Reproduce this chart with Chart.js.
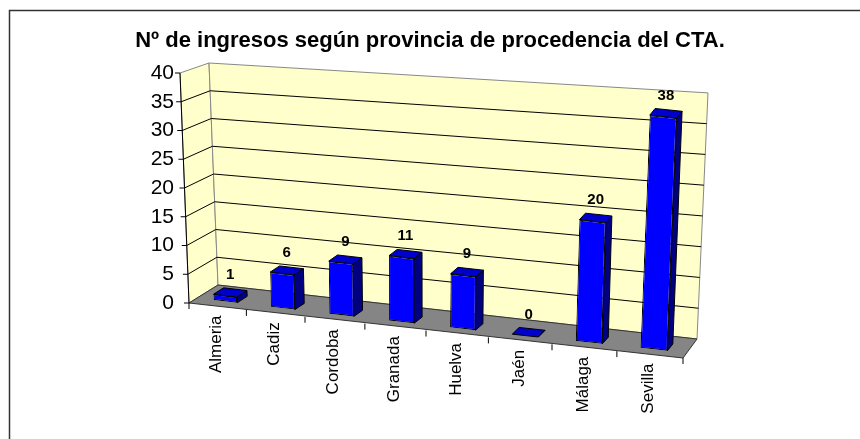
<!DOCTYPE html>
<html>
<head>
<meta charset="utf-8">
<title>Nº de ingresos según provincia de procedencia del CTA.</title>
<script src="https://cdn.jsdelivr.net/npm/chart.js@4.4.1/dist/chart.umd.min.js"></script>
<style>
  html, body { margin: 0; padding: 0; background: #fff; }
  #wrap { width: 860px; height: 439px; }
</style>
</head>
<body>
<div id="wrap"><canvas id="grafico" width="860" height="439"></canvas></div>
<script>
const provincias = ["Almeria", "Cadiz", "Cordoba", "Granada", "Huelva", "Jaén", "Málaga", "Sevilla"];
const ingresos = [1, 6, 9, 11, 9, 0, 20, 38];
const marcasY = [0, 5, 10, 15, 20, 25, 30, 35, 40];
const titulo = "Nº de ingresos según provincia de procedencia del CTA.";

const FUENTE = "'Liberation Sans', Arial, sans-serif";
const Z0 = 0.28, Z1 = 0.64; // profundidad de las barras (0 = frente, 1 = pared)

// perspectiva aproximada del grafico 3D de Excel
function proyectar(area, X, Y, z) {
  const u = (X - area.left) / (area.right - area.left);
  const v = (area.bottom - Y) / (area.bottom - area.top);
  const dx = 29 - 15 * u;
  const dy = -18 - u + 8 * v * (1 - u);
  return {
    x: X - 40 * u * (1 - u) + (-9 + 20 * u) * v + z * dx,
    y: area.bottom + 55 * u - (area.bottom - Y) * (1 + 0.07 * u) + z * dy
  };
}

function poligono(ctx, pts, relleno, borde) {
  ctx.beginPath();
  ctx.moveTo(pts[0].x, pts[0].y);
  for (let i = 1; i < pts.length; i++) ctx.lineTo(pts[i].x, pts[i].y);
  ctx.closePath();
  ctx.fillStyle = relleno;
  ctx.fill();
  if (borde) {
    ctx.strokeStyle = borde;
    ctx.stroke();
  }
}

const plugin3d = {
  id: "plugin3d",
  beforeDraw(chart) {
    const ctx = chart.ctx;
    const a = chart.chartArea;
    const ys = chart.scales.y;
    const xs = chart.scales.x;
    const P = (X, Y, z) => proyectar(a, X, Y, z);
    ctx.save();
    ctx.fillStyle = "#fff";
    ctx.fillRect(0, 0, chart.width, chart.height);

    // marco
    ctx.strokeStyle = "#333";
    ctx.lineWidth = 1.5;
    ctx.beginPath();
    ctx.moveTo(9.5, chart.height + 2);
    ctx.lineTo(9.5, 10.5);
    ctx.lineTo(chart.width + 2, 10.5);
    ctx.stroke();

    ctx.lineWidth = 1;
    // pared izquierda y pared del fondo
    poligono(ctx, [P(a.left, a.bottom, 0), P(a.left, a.top, 0), P(a.left, a.top, 1), P(a.left, a.bottom, 1)], "#FFFFCC", "#888");
    poligono(ctx, [P(a.left, a.top, 1), P(a.right, a.top, 1), P(a.right, a.bottom, 1), P(a.left, a.bottom, 1)], "#FFFFCC", "#888");

    // lineas de division
    ctx.strokeStyle = "#000";
    ys.ticks.forEach(t => {
      if (t.value <= marcasY[0] || t.value >= marcasY[marcasY.length - 1]) return;
      const Y = ys.getPixelForValue(t.value);
      const p0 = P(a.left, Y, 0), p1 = P(a.left, Y, 1), p2 = P(a.right, Y, 1);
      ctx.beginPath();
      ctx.moveTo(p0.x, p0.y);
      ctx.lineTo(p1.x, p1.y);
      ctx.lineTo(p2.x, p2.y);
      ctx.stroke();
    });

    // suelo
    poligono(ctx, [P(a.left, a.bottom, 0), P(a.right, a.bottom, 0), P(a.right, a.bottom, 1), P(a.left, a.bottom, 1)], "#858585", "#333");

    // eje vertical y sus marcas
    ctx.strokeStyle = "#000";
    const e0 = P(a.left, a.bottom, 0), e1 = P(a.left, a.top, 0);
    ctx.beginPath();
    ctx.moveTo(e0.x, e0.y);
    ctx.lineTo(e1.x, e1.y);
    ctx.stroke();
    ys.ticks.forEach(t => {
      const p = P(a.left, ys.getPixelForValue(t.value), 0);
      ctx.beginPath();
      ctx.moveTo(p.x - 5, p.y);
      ctx.lineTo(p.x, p.y);
      ctx.stroke();
    });

    // marcas del eje de categorias
    const paso = (a.right - a.left) / provincias.length;
    for (let i = 0; i <= provincias.length; i++) {
      const p = P(a.left + i * paso, a.bottom, 0);
      ctx.beginPath();
      ctx.moveTo(p.x, p.y);
      ctx.lineTo(p.x, p.y + 6);
      ctx.stroke();
    }

    // etiquetas de categorias
    ctx.fillStyle = "#000";
    ctx.font = "17px " + FUENTE;
    ctx.textAlign = "right";
    ctx.textBaseline = "middle";
    provincias.forEach((nombre, i) => {
      const p = P(xs.getPixelForValue(i), a.bottom, 0);
      ctx.save();
      ctx.translate(p.x - 1, p.y + 9);
      ctx.rotate(-Math.PI / 2);
      ctx.fillText(nombre, 0, 0);
      ctx.restore();
    });
    ctx.restore();
  },
  beforeDatasetDraw(chart, args) {
    const ctx = chart.ctx;
    const a = chart.chartArea;
    const P = (X, Y, z) => proyectar(a, X, Y, z);
    args.meta.data.forEach(bar => {
      const { x, y, base, width } = bar.getProps(["x", "y", "base", "width"], true);
      const p0 = P(x, base, Z0), p1 = P(x + 10, base, Z0), p2 = P(x, base - 100, Z0);
      const m = {
        a: (p1.x - p0.x) / 10, b: (p1.y - p0.y) / 10,
        c: (p0.x - p2.x) / 100, d: (p0.y - p2.y) / 100
      };
      m.e = p0.x - m.a * x - m.c * base;
      m.f = p0.y - m.b * x - m.d * base;
      const T = (X, Y) => ({ x: m.a * X + m.c * Y + m.e, y: m.b * X + m.d * Y + m.f });
      const q0 = P(x, y, Z0), q1 = P(x, y, Z1);
      const D = { x: q1.x - q0.x, y: q1.y - q0.y };
      const add = p => ({ x: p.x + D.x, y: p.y + D.y });
      const TL = T(x - width / 2, y), TR = T(x + width / 2, y), BR = T(x + width / 2, base);

      ctx.save();
      ctx.lineWidth = 1;
      ctx.lineJoin = "round";
      poligono(ctx, [TR, add(TR), add(BR), BR], "#000080", "#000");
      poligono(ctx, [TL, TR, add(TR), add(TL)], "#0000CC", "#000");
      ctx.transform(m.a, m.b, m.c, m.d, m.e, m.f);
      bar.draw(ctx);
      ctx.restore();
    });
    return false;
  },
  afterDatasetsDraw(chart) {
    const ctx = chart.ctx;
    const a = chart.chartArea;
    const meta = chart.getDatasetMeta(0);
    ctx.save();
    ctx.fillStyle = "#000";
    ctx.font = "bold 15px " + FUENTE;
    ctx.textAlign = "center";
    ctx.textBaseline = "middle";
    meta.data.forEach((bar, i) => {
      const px = proyectar(a, bar.x, bar.y, (Z0 + Z1) / 2).x;
      const py = proyectar(a, bar.x, bar.y, Z0).y;
      ctx.fillText(String(ingresos[i]), px, py - 21);
    });
    ctx.restore();
  }
};

new Chart(document.getElementById("grafico"), {
  type: "bar",
  data: {
    labels: provincias,
    datasets: [{
      data: ingresos,
      backgroundColor: "#0000FF",
      borderColor: "#000",
      borderWidth: 1,
      borderSkipped: false,
      barPercentage: 0.41,
      categoryPercentage: 1
    }]
  },
  options: {
    responsive: false,
    animation: false,
    devicePixelRatio: 1,
    layout: { padding: 0 },
    plugins: {
      legend: { display: false },
      tooltip: { enabled: false },
      title: {
        display: true,
        text: titulo,
        color: "#000",
        font: { family: FUENTE, size: 22, weight: "bold", lineHeight: 1.2 },
        padding: { top: 28, bottom: 18.6 }
      }
    },
    scales: {
      x: {
        display: true,
        grid: { display: false, drawTicks: false },
        border: { display: false },
        ticks: { display: false },
        afterFit: s => { s.height = 136; }
      },
      y: {
        min: marcasY[0],
        max: marcasY[marcasY.length - 1],
        grid: { display: false, drawTicks: false },
        border: { display: false },
        ticks: {
          stepSize: marcasY[1] - marcasY[0],
          color: "#000",
          padding: 15,
          font: { family: FUENTE, size: 21 }
        },
        afterFit: s => { s.width = 189; }
      },
      y2: {
        position: "right",
        display: true,
        grid: { display: false, drawTicks: false },
        border: { display: false },
        ticks: { display: false },
        afterFit: s => { s.width = 177; }
      }
    }
  },
  plugins: [plugin3d]
});
</script>
</body>
</html>
